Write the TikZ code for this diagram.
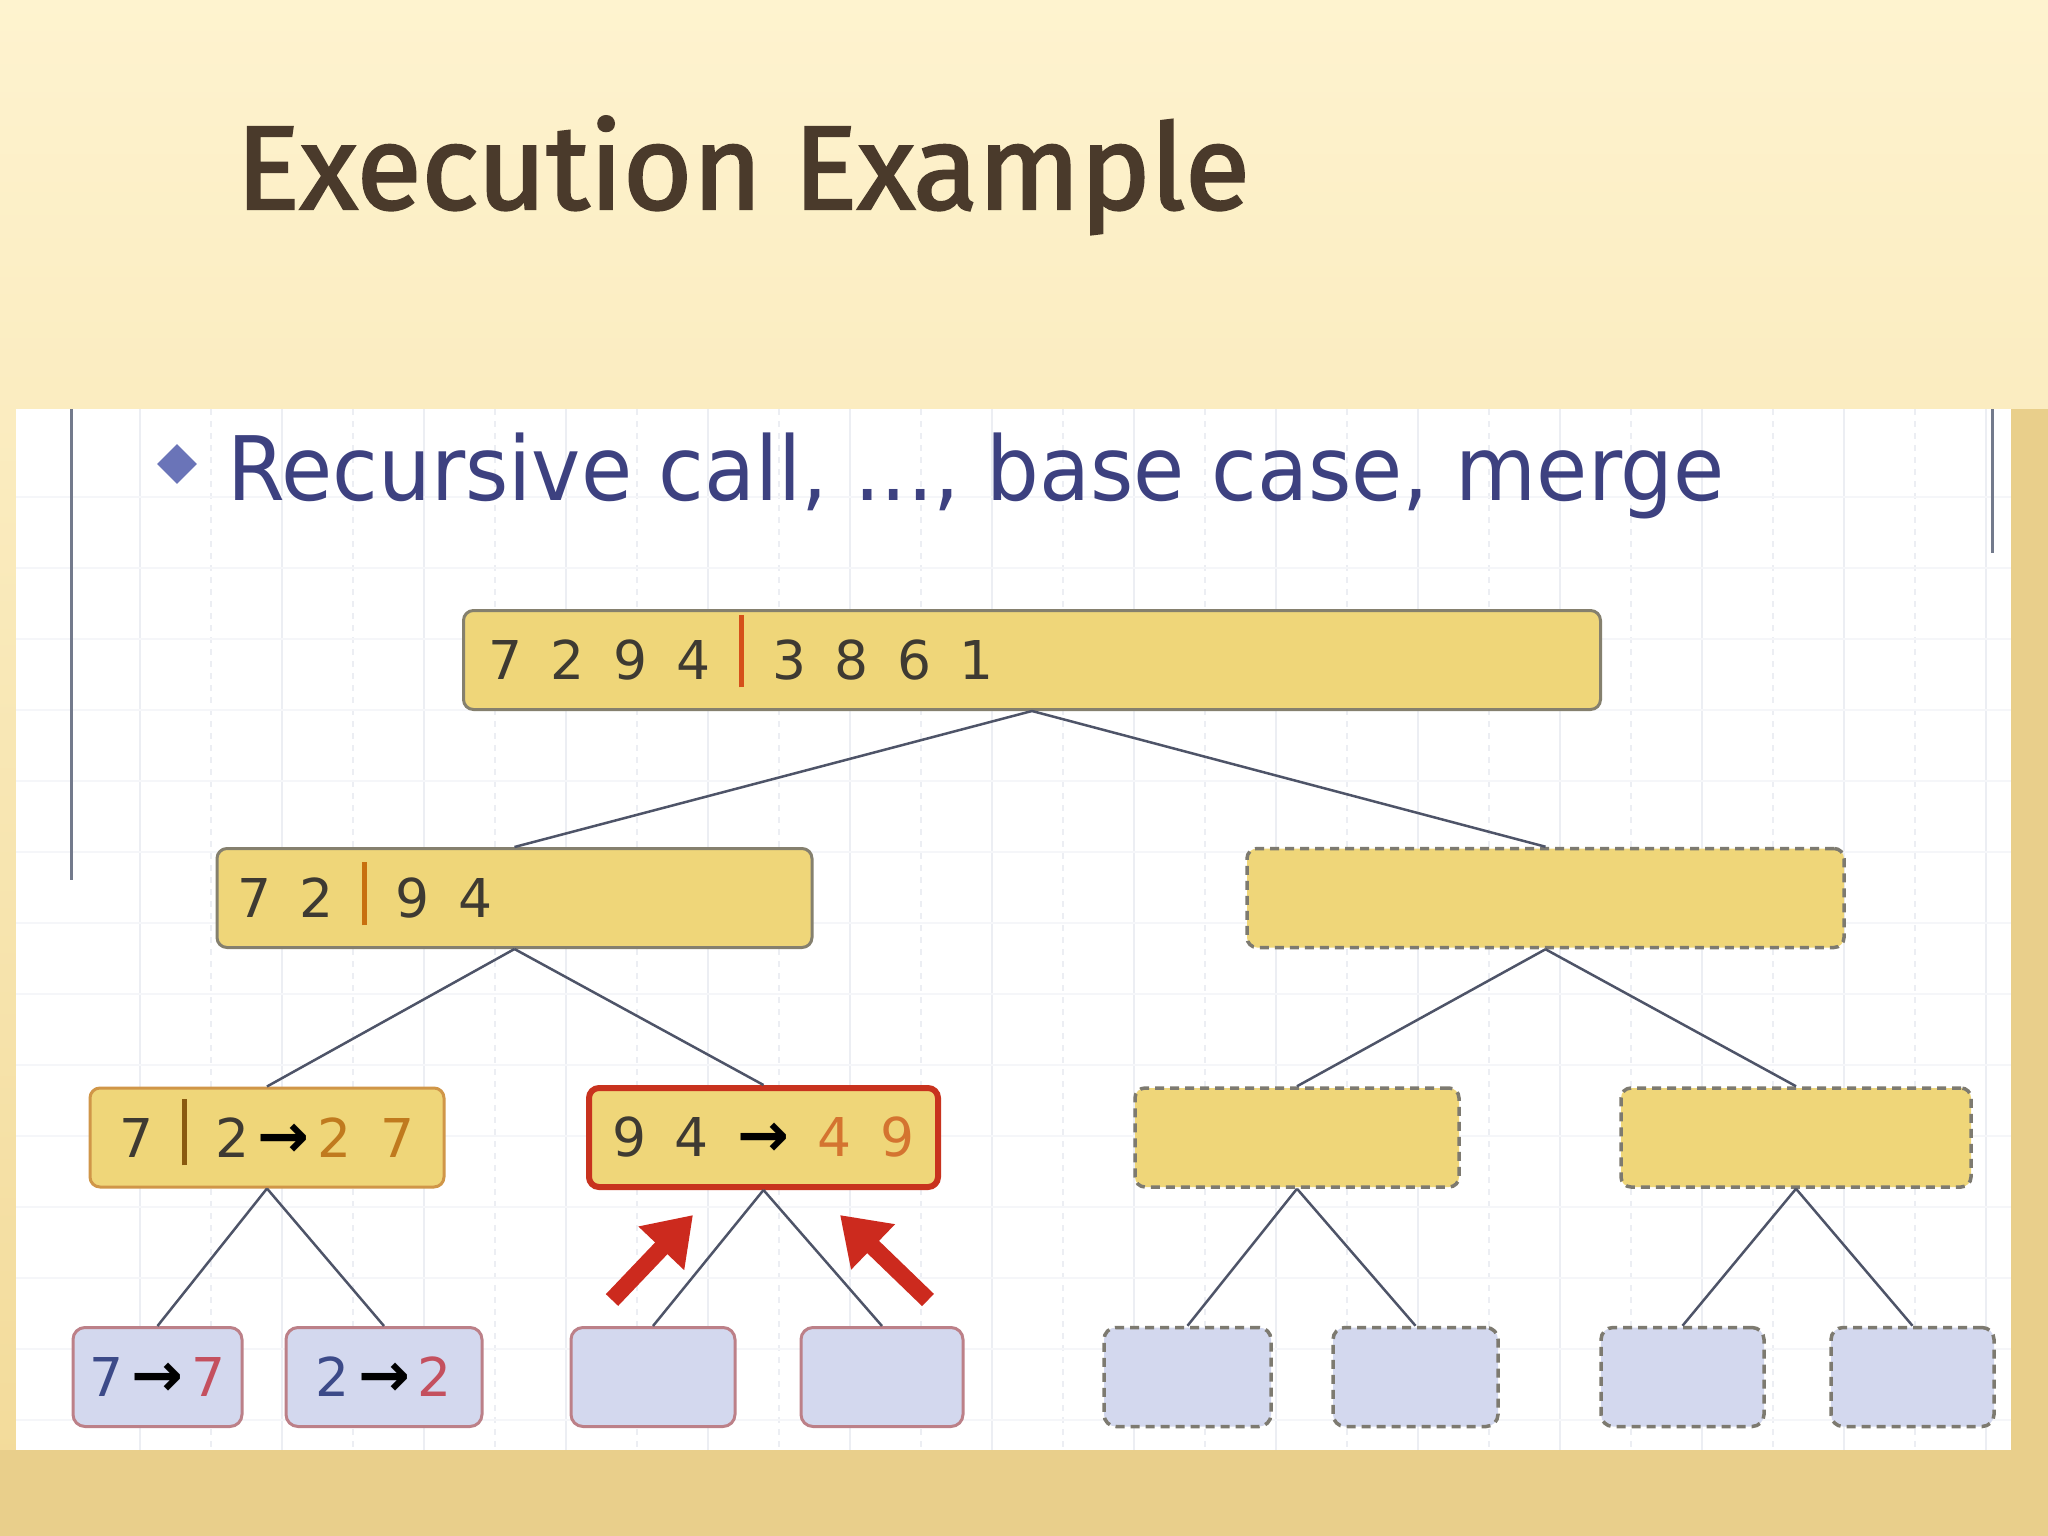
\documentclass[tikz,border=0pt]{standalone}
\usepackage{fontspec}
\setmainfont{DejaVu Sans}
\newfontfamily\titlefont[FakeBold=2]{Fira Sans}
\newfontfamily\bodyfont[FakeStretch=0.935]{DejaVu Sans}
\newfontfamily\digitfont{DejaVu Sans}
\usetikzlibrary{arrows.meta,positioning,shapes.geometric}
\definecolor{bgtop}{HTML}{FEF3CF}
\definecolor{bgbot}{HTML}{F2DA98}
\definecolor{bgstrip}{HTML}{E9CF8B}
\definecolor{titlec}{HTML}{4A3A2B}
\definecolor{subc}{HTML}{3D4180}
\definecolor{bulletc}{HTML}{6A74B8}
\definecolor{gridc}{HTML}{ECEEF3}
\definecolor{panelc}{HTML}{737A8C}
\definecolor{yel}{HTML}{EFD679}
\definecolor{boxgray}{HTML}{85806E}
\definecolor{dashgray}{HTML}{7D7A70}
\definecolor{edgec}{HTML}{4E5468}
\definecolor{digc}{HTML}{3E3A32}
\definecolor{barred}{HTML}{D5501A}
\definecolor{barorg}{HTML}{C8700F}
\definecolor{barbrn}{HTML}{8A5A10}
\definecolor{orgA}{HTML}{C07A1E}
\definecolor{orgB}{HTML}{D47430}
\definecolor{borA}{HTML}{D09648}
\definecolor{borB}{HTML}{C8321E}
\definecolor{lav}{HTML}{D3D8EE}
\definecolor{rosebor}{HTML}{BC8088}
\definecolor{navy}{HTML}{3C4A88}
\definecolor{rosed}{HTML}{C4505E}
\definecolor{arrred}{HTML}{CC2A1E}
\newcommand{\divbar}[2]{\smash{\textcolor{#1}{\rule[-8pt]{5pt}{#2}}}}
\newcommand{\rarr}{{\bfseries\fontsize{62}{62}\selectfont\color{black}→}}
\newcommand{\tarr}{\kern8pt\rarr\kern8pt}
\protected\def\digitset{\digitfont\fontsize{53.5}{60}\selectfont\spaceskip=28.5pt\relax}
\tikzset{
  ybox/.style={draw=boxgray,fill=yel,rounded corners=10pt,line width=3pt,minimum height=99pt,inner ysep=4pt,
    font=\digitset,text=digc},
  ydash/.style={ybox,draw=dashgray,dash pattern=on 9pt off 6pt,line width=3.5pt},
  leaf/.style={draw=rosebor,fill=lav,rounded corners=12pt,line width=3pt,minimum height=99pt,inner sep=2pt,
    font=\digitset},
  ldash/.style={leaf,draw=dashgray,dash pattern=on 9pt off 6pt,line width=3.5pt},
  edge/.style={draw=edgec,line width=2.5pt},
  redarr/.style={draw=arrred,line width=17pt,-{Triangle[length=46pt,width=60pt]}},
  gridline/.style={draw=gridc,line width=1.5pt},
}
\begin{document}
\begin{tikzpicture}[x=1pt,y=-1pt]
\useasboundingbox (0,0) rectangle (2048,1536);
% background and slide panel
\fill[top color=bgtop,bottom color=bgbot] (0,0) rectangle (2048,1536);
\fill[bgstrip] (0,1450) rectangle (2048,1536);
\fill[bgstrip] (2011,409) rectangle (2048,1450);
\fill[white] (16,409) rectangle (2011,1450);
\foreach \gx in {140,282,...,1990} \draw[gridline] (\gx,409) -- (\gx,1450);
\foreach \gx in {211,353,...,1990} \draw[gridline,dash pattern=on 6pt off 6pt] (\gx,409) -- (\gx,1450);
\foreach \gy in {497,568,...,1450} \draw[gridline,draw=gridc!50] (16,\gy) -- (2011,\gy);
\draw[panelc,line width=3pt] (71,409) -- (71,880);
\draw[panelc,line width=3pt] (1992,409) -- (1992,553);

% titles
\node[anchor=base west,inner sep=0,font=\titlefont\fontsize{119}{119}\selectfont,text=titlec] (title) at (236,209) {Execution Example};
\node[diamond,fill=bulletc,minimum size=40pt,inner sep=0] (bullet) at (177,464) {};
\node[anchor=base west,inner sep=0,font=\bodyfont\fontsize{89}{89}\selectfont,text=subc] (subtitle) at (227,500) {Recursive call, ..., base case, merge};

% merge-sort tree
\node[ybox,inner xsep=25pt] (root) at (1032,660) {\makebox[1087pt][l]{7 2 9 4 \divbar{barred}{72pt} 3 8 6 1}};
\node[ybox,inner xsep=20pt] (n1) at (514.5,898) {\makebox[555pt][l]{7 2 \divbar{barorg}{63pt} 9 4}};
\node[ydash,minimum width=597pt] (n2) at (1545.5,898) {};

\node[ybox,draw=borA,minimum width=354pt] (n11) at (267,1137.5) {7 \divbar{barbrn}{66pt} 2\tarr\textcolor{orgA}{2 7}};
\node[ybox,draw=borB,line width=6pt,minimum width=349pt] (n12) at (763.5,1137.5) {9 4 {\rarr} \textcolor{orgB}{4 9}};
\node[ydash,minimum width=324pt] (n21) at (1297,1137.5) {};
\node[ydash,minimum width=350pt] (n22) at (1796,1137.5) {};

\node[leaf,minimum width=169pt] (l1) at (157.5,1377) {\textcolor{navy}{7}\tarr\textcolor{rosed}{7}};
\node[leaf,minimum width=196pt] (l2) at (384,1377) {\textcolor{navy}{2}\tarr\textcolor{rosed}{2}};
\node[leaf,minimum width=164pt] (l3) at (653,1377) {};
\node[leaf,minimum width=162pt] (l4) at (882,1377) {};
\node[ldash,minimum width=167pt] (l5) at (1187.5,1377) {};
\node[ldash,minimum width=165pt] (l6) at (1415.5,1377) {};
\node[ldash,minimum width=163pt] (l7) at (1682.5,1377) {};
\node[ldash,minimum width=163pt] (l8) at (1912.5,1377) {};

\draw[edge] (root.south) -- (n1.north);
\draw[edge] (root.south) -- (n2.north);
\draw[edge] (n1.south) -- (n11.north);
\draw[edge] (n1.south) -- (n12.north);
\draw[edge] (n2.south) -- (n21.north);
\draw[edge] (n2.south) -- (n22.north);
\draw[edge] (n11.south) -- (l1.north);
\draw[edge] (n11.south) -- (l2.north);
\draw[edge] (n12.south) -- (l3.north);
\draw[edge] (n12.south) -- (l4.north);
\draw[edge] (n21.south) -- (l5.north);
\draw[edge] (n21.south) -- (l6.north);
\draw[edge] (n22.south) -- (l7.north);
\draw[edge] (n22.south) -- (l8.north);

% merge arrows
\coordinate (ma1) at (612,1300);
\coordinate (mb1) at (693,1215);
\coordinate (ma2) at (928,1300);
\coordinate (mb2) at (840,1215);
\draw[redarr] (ma1) -- (mb1);
\draw[redarr] (ma2) -- (mb2);
\end{tikzpicture}
\end{document}
